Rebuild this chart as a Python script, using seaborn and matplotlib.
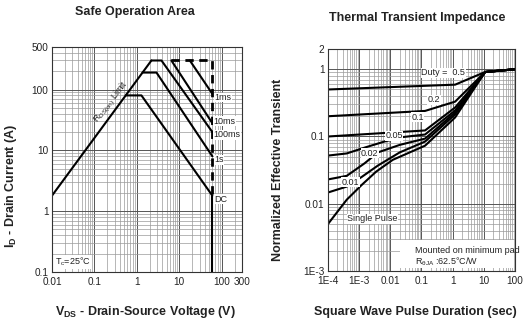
import numpy as np
import pandas as pd
import matplotlib
matplotlib.use('Agg')
import matplotlib.pyplot as plt
import seaborn as sns
from matplotlib.ticker import FixedLocator, FixedFormatter, LogLocator, NullFormatter
from matplotlib.patches import Rectangle

# ---------------- Safe Operation Area data ----------------
rds_v = [0.01, 2.2]
rds_i = [1.8, 300]
dc_v = [0.55, 1.28, 60]
dc_i = [80, 80, 1.8]
s1_v = [1.36, 2.9, 60]
s1_i = [190, 190, 8]
ms100_v = [2.2, 3.8, 60]
ms100_i = [300, 300, 20]
ms10_v = [6.5, 60]
ms10_i = [300, 28]
ms1_v = [17.7, 60]
ms1_i = [300, 85]
lim_v = [6.5, 60, 60]
lim_i = [300, 300, 1.8]
vmax_v = [60, 60]
vmax_i = [1.8, 0.1]

soa_xticks = [0.01, 0.1, 1, 10, 100, 300]
soa_xlabels = ['0.01', '0.1', '1', '10', '100', '300']
soa_yticks = [0.1, 1, 10, 100, 500]
soa_ylabels = ['0.1', '1', '10', '100', '500']

# ---------------- Thermal impedance data ----------------
d50_t = [1e-4, 1.2, 11, 100]
d50_z = [0.50, 0.59, 0.91, 1.0]
d20_t = [1e-4, 0.13, 1.2, 11, 100]
d20_z = [0.20, 0.24, 0.33, 0.91, 1.0]
d10_t = [1e-4, 0.13, 1.2, 11, 100]
d10_z = [0.10, 0.123, 0.27, 0.91, 1.0]
d05_t = [1e-4, 4e-4, 1.6e-3, 7e-3, 0.025, 0.13, 1.2, 11, 100]
d05_z = [0.052, 0.056, 0.069, 0.085, 0.098, 0.107, 0.244, 0.91, 1.0]
d02_t = [1e-4, 4e-4, 1.5e-3, 4e-3, 0.02, 0.13, 1.2, 11, 100]
d02_z = [0.023, 0.026, 0.040, 0.058, 0.075, 0.093, 0.228, 0.91, 1.0]
d01_t = [1e-4, 4e-4, 1.2e-3, 4e-3, 0.02, 0.13, 1.2, 11, 100]
d01_z = [0.0147, 0.018, 0.025, 0.037, 0.058, 0.084, 0.213, 0.91, 1.0]
sp_t = [1e-4, 4e-4, 1.2e-3, 3.5e-3, 0.012, 0.13, 1.2, 11, 100]
sp_z = [0.005, 0.0115, 0.019, 0.030, 0.045, 0.073, 0.192, 0.91, 1.0]

zth_xticks = [1e-4, 1e-3, 1e-2, 0.1, 1, 10, 100]
zth_xlabels = ['1E-4', '1E-3', '0.01', '0.1', '1', '10', '100']
zth_yticks = [1e-3, 0.01, 0.1, 1, 2]
zth_ylabels = ['1E-3', '0.01', '0.1', '1', '2']

sns.set_theme(style='white')
plt.rcParams['font.family'] = ['Liberation Sans', 'DejaVu Sans']
plt.rcParams['mathtext.fontset'] = 'custom'
plt.rcParams['mathtext.rm'] = 'Liberation Sans'
plt.rcParams['mathtext.it'] = 'Liberation Sans'
plt.rcParams['mathtext.bf'] = 'Liberation Sans:bold'
plt.rcParams['mathtext.default'] = 'regular'

fig = plt.figure(figsize=(5.3, 3.24), dpi=100)
ax1 = fig.add_axes([52/530, 52/324, 190/530, 225/324])
ax2 = fig.add_axes([328/530, 53/324, 187/530, 222/324])

LW = 1.5
TXT = '#222222'

def style_axes(ax, xt, xl, yt, yl, xlim, ylim):
    ax.set_xscale('log')
    ax.set_yscale('log')
    ax.set_xlim(*xlim)
    ax.set_ylim(*ylim)
    ax.xaxis.set_major_locator(FixedLocator(xt))
    ax.xaxis.set_major_formatter(FixedFormatter(xl))
    ax.yaxis.set_major_locator(FixedLocator(yt))
    ax.yaxis.set_major_formatter(FixedFormatter(yl))
    ax.xaxis.set_minor_locator(LogLocator(base=10, subs=np.arange(2, 10), numticks=50))
    ax.yaxis.set_minor_locator(LogLocator(base=10, subs=np.arange(2, 10), numticks=50))
    ax.xaxis.set_minor_formatter(NullFormatter())
    ax.yaxis.set_minor_formatter(NullFormatter())
    ax.grid(True, which='major', color='#555555', lw=0.7)
    ax.grid(True, which='minor', color='#9a9a9a', lw=0.5)
    ax.tick_params(which='both', length=0, labelsize=7.2, colors=TXT)
    ax.tick_params(axis='x', pad=3.5)
    ax.tick_params(axis='y', pad=2.5)
    for s in ax.spines.values():
        s.set_color('#333333')
        s.set_linewidth(0.8)
    ax.set_axisbelow(True)

def line(ax, x, y, **kw):
    sns.lineplot(x=x, y=y, ax=ax, color='black', sort=False, estimator=None, **kw)

# ---- left chart ----
style_axes(ax1, soa_xticks, soa_xlabels, soa_yticks, soa_ylabels, (0.01, 300), (0.1, 500))
for v, i in [(rds_v, rds_i), (dc_v, dc_i), (s1_v, s1_i), (ms100_v, ms100_i),
             (ms10_v, ms10_i), (ms1_v, ms1_i), (vmax_v, vmax_i)]:
    line(ax1, v, i, lw=LW)
line(ax1, lim_v, lim_i, lw=2.0, dashes=(3, 2))

lab_kw = dict(fontsize=6.5, color=TXT, ha='left', va='center',
              bbox=dict(facecolor='white', edgecolor='none', pad=0.3))
ax1.text(66, 74, '1ms', **lab_kw)
ax1.text(64, 30, '10ms', **lab_kw)
ax1.text(64, 18, '100ms', **lab_kw)
ax1.text(66, 7.0, '1s', **lab_kw)
ax1.text(68, 1.56, 'DC', **lab_kw)
ax1.text(0.0118, 0.145, 'T$_c$=25°C', **lab_kw)
ax1.text(0.25, 62, 'R$_{DS(on)}$ Limit', fontsize=6.5, color=TXT, rotation=52,
         ha='center', va='center', rotation_mode='anchor')

ax1.set_xlabel('')
ax1.set_ylabel('')
fig.text(135/530, 1 - 12/324, 'Safe Operation Area', ha='center', va='center',
         fontsize=9, fontweight='bold', color=TXT)
fig.text(145/530, 1 - 312/324, '$\\mathbf{V_{DS}}$ - Drain-Source Voltage (V)', ha='center', va='center',
         fontsize=9, fontweight='bold', color=TXT)
fig.text(11/530, 1 - 186/324, '$\\mathbf{I_D}$ - Drain Current (A)', ha='center', va='center',
         rotation=90, fontsize=9, fontweight='bold', color=TXT)

# ---- right chart ----
style_axes(ax2, zth_xticks, zth_xlabels, zth_yticks, zth_ylabels, (1e-4, 100), (1e-3, 2))
for t, z in [(d50_t, d50_z), (d20_t, d20_z), (d10_t, d10_z), (d05_t, d05_z),
             (d02_t, d02_z), (d01_t, d01_z), (sp_t, sp_z)]:
    line(ax2, t, z, lw=LW)

lk = dict(fontsize=6.5, color=TXT, ha='center', va='center',
          bbox=dict(facecolor='white', edgecolor='none', pad=0.3))
ax2.text(0.5, 0.89, 'Duty =  0.5', **lk)
ax2.text(0.255, 0.353, '0.2', **lk)
ax2.text(0.074, 0.194, '0.1', **lk)
ax2.text(0.0133, 0.103, '0.05', **lk)
ax2.text(2.18e-3, 0.056, '0.02', **lk)
ax2.text(5.2e-4, 0.0208, '0.01', **lk)
ax2.text(2.68e-3, 0.006, 'Single Pulse', **lk)

ax2.add_patch(Rectangle((0.385, 0.015), 0.61, 0.125, transform=ax2.transAxes,
                        facecolor='white', edgecolor='none', zorder=1.5))
ax2.text(0.062, 0.002, 'Mounted on minimum pad', fontsize=6.5, color=TXT,
         ha='left', va='center', zorder=3)
ax2.text(0.062, 0.00137, 'R$_{\\theta JA}$ :62.5°C/W', fontsize=6.5, color=TXT,
         ha='left', va='center', zorder=3)

ax2.set_xlabel('')
ax2.set_ylabel('')
fig.text(417/530, 1 - 17.5/324, 'Thermal Transient Impedance', ha='center', va='center',
         fontsize=9, fontweight='bold', color=TXT)
fig.text(415/530, 1 - 312/324, 'Square Wave Pulse Duration (sec)', ha='center', va='center',
         fontsize=9, fontweight='bold', color=TXT)
fig.text(278/530, 1 - 170/324, 'Normalized Effective Transient', ha='center', va='center',
         rotation=90, fontsize=9, fontweight='bold', color=TXT)

fig.savefig('out.png', dpi=100, facecolor='white')
